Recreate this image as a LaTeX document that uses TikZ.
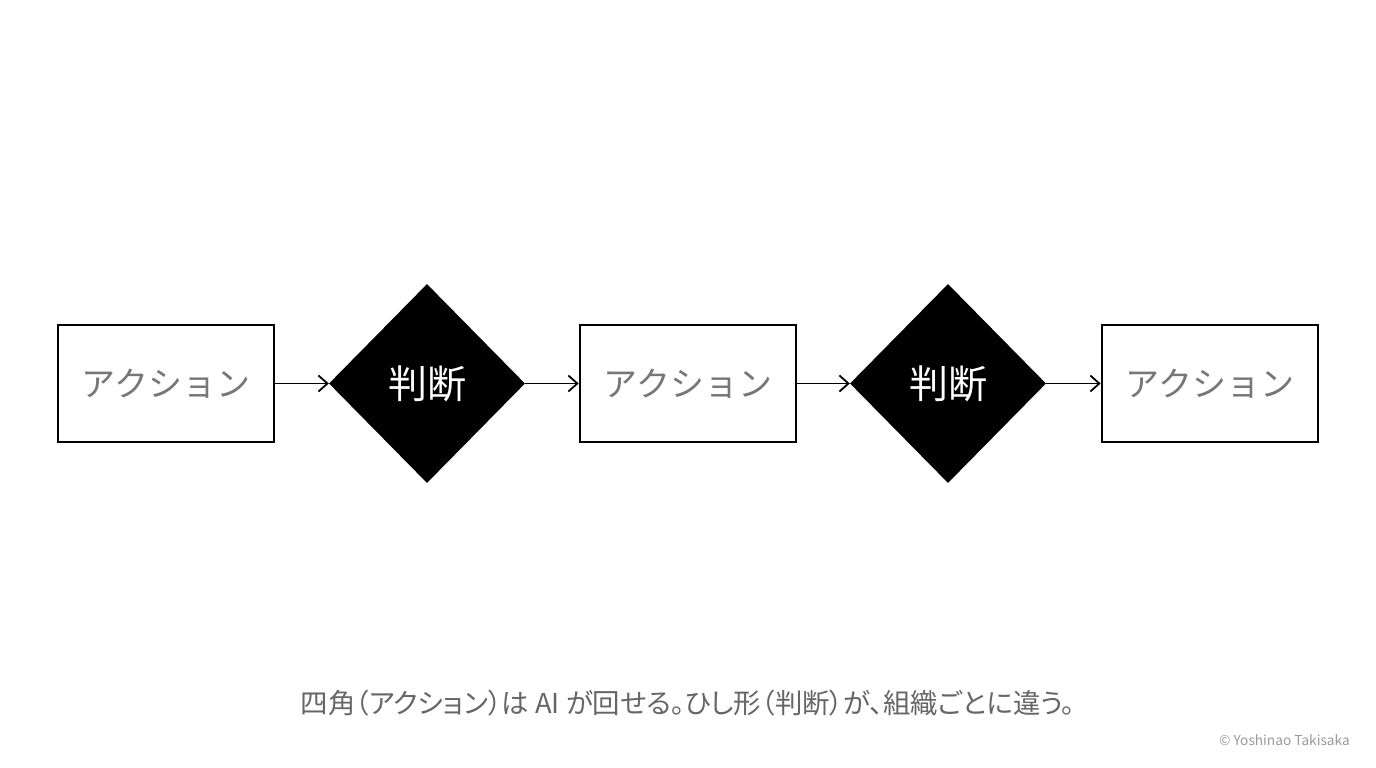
\documentclass[tikz,border=0pt]{standalone}
\usepackage{fontspec}
\setmainfont{Noto Sans CJK JP}
\newfontfamily\jpcap[RawFeature=+palt]{Noto Sans CJK JP}
\usetikzlibrary{shapes.geometric,arrows.meta}
\definecolor{actgray}{HTML}{777777}
\definecolor{capgray}{HTML}{666666}
\definecolor{copygray}{HTML}{9A9A9A}
\tikzset{
  actbox/.style={draw=black, line width=2.6pt, fill=white, minimum width=216pt, minimum height=117pt, inner sep=0pt, text=actgray, font=\fontsize{34}{40}\selectfont},
  judge/.style={diamond, fill=black, draw=none, minimum width=196pt, minimum height=199pt, inner sep=0pt, aspect=1, text=white, font=\fontsize{39}{44}\selectfont},
  flow/.style={line width=1.8pt, -{Straight Barb[length=9pt, width=16pt, line width=1.8pt]}},
}
\begin{document}
\begin{tikzpicture}[x=1pt,y=-1pt]
\useasboundingbox (0,0) rectangle (1376,768);
\fill[white] (0,0) rectangle (1376,768);
\node[actbox] (a1) at (166,383.5) {アクション};
\node[judge] (j1) at (427,383.5) {判断};
\node[actbox] (a2) at (688,383.5) {アクション};
\node[judge] (j2) at (948,383.5) {判断};
\node[actbox] (a3) at (1210,383.5) {アクション};
\draw[flow] (a1.east) -- (j1.west);
\draw[flow] (j1.east) -- (a2.west);
\draw[flow] (a2.east) -- (j2.west);
\draw[flow] (j2.east) -- (a3.west);
\node[text=capgray, font=\jpcap\fontsize{27.4}{32}\selectfont, inner sep=0pt] (cap) at (688,703) {四角（アクション）は AI が回せる。ひし形（判断）が、組織ごとに違う。};
\node[text=copygray, font=\fontsize{13.7}{16}\selectfont, anchor=east, inner sep=0pt] (copy) at (1350,740) {© Yoshinao Takisaka};
\end{tikzpicture}
\end{document}
